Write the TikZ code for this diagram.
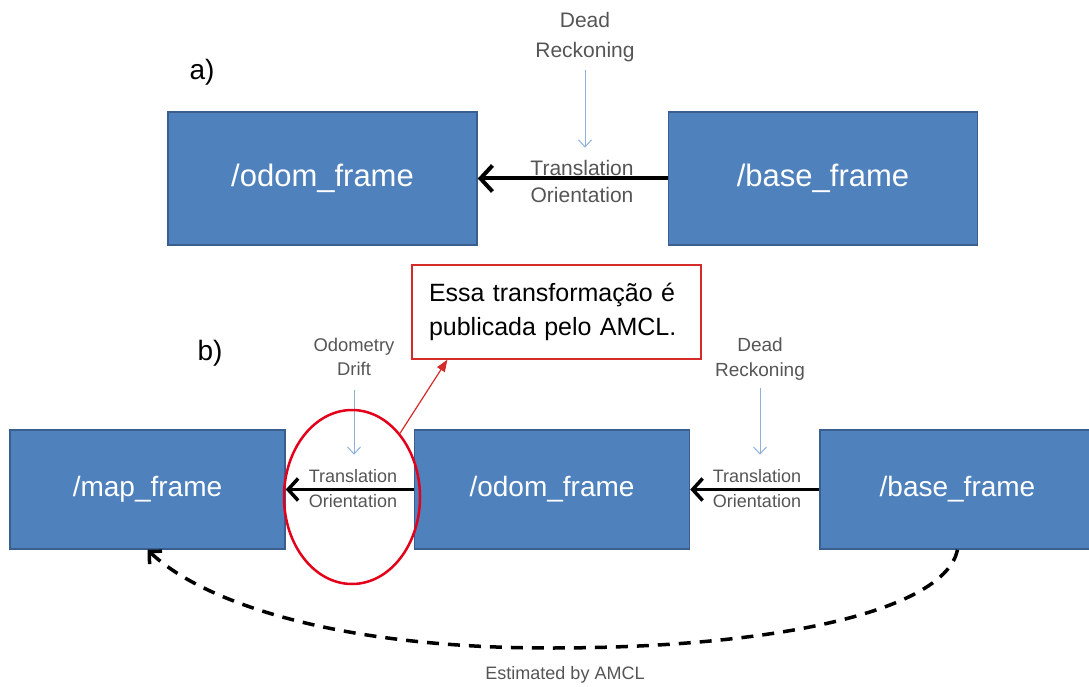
\documentclass[tikz,border=0pt]{standalone}
\usepackage{fontspec}
\setmainfont{Liberation Sans}
\usetikzlibrary{calc,arrows.meta,shapes.geometric}
\definecolor{frame_blue}{HTML}{4F81BD}
\definecolor{frame_edge}{HTML}{3A5F8E}
\definecolor{hint_blue}{HTML}{8DB0DA}
\definecolor{label_grey}{HTML}{555555}
\definecolor{note_red}{HTML}{D42A2A}
\definecolor{ring_red}{HTML}{E3001B}

\tikzset{
	frame/.style = {draw = frame_edge, line width = 1.5pt, fill = frame_blue, text = white, inner sep = 0pt},
	topframe/.style = {frame, minimum width = 309, minimum height = 133, font = \fontsize{31}{36}\selectfont},
	lowframe/.style = {frame, minimum width = 275, minimum height = 119, font = \fontsize{28}{32}\selectfont},
	hint/.style = {text = label_grey, align = center, inner sep = 4pt},
	link/.style = {line width = 4pt, -{Straight Barb[length = 12pt, width = 26pt]}},
	lowlink/.style = {line width = 3.5pt, -{Straight Barb[length = 10pt, width = 22pt]}},
	feed/.style = {hint_blue, line width = 1pt, -{Straight Barb[length = 7pt, width = 13pt]}},
	pointer/.style = {note_red, line width = 1.2pt, -{Triangle[length = 12pt, width = 9pt]}},
	estimate/.style = {line width = 3.5pt, dash pattern = on 12pt off 9pt, -{Straight Barb[length = 9pt, width = 18pt]}}
}

\begin{document}
\begin{tikzpicture}[x = 1pt, y = -1pt]
	\useasboundingbox (0, 0) rectangle (1089, 687);
	\node (labelA) at (202, 72) {\fontsize{28}{32}\selectfont a)};
	\node (labelB) at (210, 353) {\fontsize{28}{32}\selectfont b)};
	\node[topframe] (odomA) at (322.5, 178.5) {/odom\_frame};
	\node[topframe] (baseA) at (823, 178.5) {/base\_frame};
	\node[hint, font = \fontsize{21}{30}\selectfont] (deadA) at (585, 37.5) {Dead\\Reckoning};
	\node[hint, font = \fontsize{21}{27}\selectfont] (transA) at (582, 181) {Translation\\Orientation};
	\draw[link] (baseA.west) -- (odomA.east);
	\draw[feed, shorten < = 4pt, shorten > = 8pt] (deadA.south) -- (deadA.south |- transA.north);
	\node[lowframe] (mapB) at (147.5, 489.5) {/map\_frame};
	\node[lowframe] (odomB) at (552, 489.5) {/odom\_frame};
	\node[lowframe] (baseB) at (957.5, 489.5) {/base\_frame};
	\node[hint, font = \fontsize{18.4}{24}\selectfont] (driftB) at (354, 357) {Odometry\\Drift};
	\node[hint, font = \fontsize{19}{25}\selectfont] (deadB) at (760, 359.5) {Dead\\Reckoning};
	\node[hint, font = \fontsize{18}{25}\selectfont] (transB) at (353, 489) {Translation\\Orientation};
	\node[hint, font = \fontsize{18}{25}\selectfont] (transC) at (757, 489) {Translation\\Orientation};
	\draw[lowlink] (odomB.west) -- (mapB.east);
	\draw[lowlink] (baseB.west) -- (odomB.east);
	\draw[feed, shorten < = 10pt, shorten > = 11pt] (driftB.south) -- (driftB.south |- transB.north);
	\draw[feed, shorten < = 3pt, shorten > = 11pt] (deadB.south) -- (deadB.south |- transC.north);
	\node[draw = note_red, line width = 1.2pt, text width = 255pt, inner xsep = 17pt, minimum width = 289, minimum height = 94, align = left, font = \fontsize{25}{34}\selectfont] (note) at (556.5, 312) {Essa transformação é\\publicada pelo AMCL.};
	\node[ellipse, draw = ring_red, line width = 2.5pt, minimum width = 136, minimum height = 174, inner sep = 0pt] (ring) at (352, 497) {};
	\coordinate (noteTip) at ($(note.south west) + (36, 0)$);
	\draw[pointer] (ring.53) -- (noteTip);
	\draw[estimate] (baseB.south) .. controls (945, 610) and (780, 648) .. (550, 648) .. controls (330, 648) and (200, 600) .. (mapB.south);
	\node[hint, font = \fontsize{18}{22}\selectfont] (estB) at (565, 675) {Estimated by AMCL};
\end{tikzpicture}
\end{document}
